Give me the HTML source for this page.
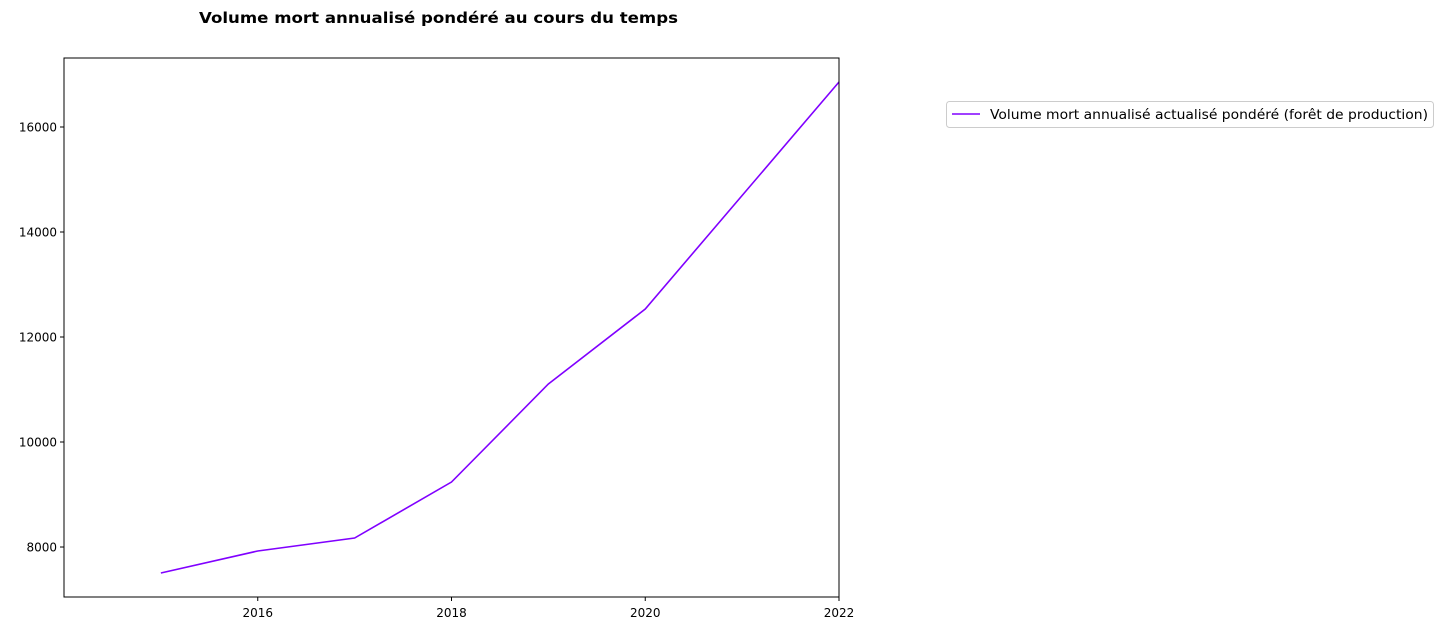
<!DOCTYPE html>
<html><head><meta charset="utf-8"><style>
html,body{margin:0;padding:0;background:#fff;}
svg{display:block;font-family:"DejaVu Sans","Liberation Sans",sans-serif;}
</style></head><body>
<svg id="chart" width="1444" height="631" xmlns="http://www.w3.org/2000/svg">
<text x="199" y="23" font-size="15.5" font-weight="bold" textLength="479" lengthAdjust="spacingAndGlyphs">Volume mort annualisé pondéré au cours du temps</text>
<g id="yticks"></g>
<g id="xticks"></g>
<polyline id="line" fill="none" stroke="#8000ff" stroke-width="1.6"/>
<rect x="64" y="58" width="775" height="539" fill="none" stroke="#000" stroke-width="1"/>
<g>
<rect x="946.5" y="101.5" width="487" height="26" rx="3" fill="#fff" stroke="#ccc"/>
<line x1="952" y1="114" x2="980" y2="114" stroke="#8000ff" stroke-width="1.6"/>
<text x="990" y="119" font-size="13" textLength="438" lengthAdjust="spacingAndGlyphs">Volume mort annualisé actualisé pondéré (forêt de production)</text>
</g>
</svg>
<script>
const years = [2015, 2016, 2017, 2018, 2019, 2020, 2021, 2022];
const values = [7505, 7924, 8171, 9238, 11105, 12533, 14695, 16857];
const xTickLabels = [2016, 2018, 2020, 2022];
const yTickLabels = [8000, 10000, 12000, 14000, 16000];
const NS = "http://www.w3.org/2000/svg";
const X0 = 64, X1 = 839, Y0 = 597, Y1 = 58;
const xMin = 2014, xMax = 2022, yMin = 7048, yMax = 17314;
const xs = v => X0 + (v - xMin) / (xMax - xMin) * (X1 - X0);
const ys = v => Y0 - (v - yMin) / (yMax - yMin) * (Y0 - Y1);
document.getElementById('line').setAttribute('points', years.map((y, i) => xs(y) + ',' + ys(values[i])).join(' '));
const yg = document.getElementById('yticks');
yTickLabels.forEach(v => {
  const y = ys(v);
  const l = document.createElementNS(NS, 'line');
  l.setAttribute('x1', X0 - 4); l.setAttribute('x2', X0); l.setAttribute('y1', y); l.setAttribute('y2', y); l.setAttribute('stroke', '#000');
  
  
  yg.appendChild(l);
  const t = document.createElementNS(NS, 'text');
  t.setAttribute('x', X0 - 7); t.setAttribute('y', y + 4.5); t.setAttribute('text-anchor', 'end'); t.setAttribute('font-size', '12');
  t.textContent = v;
  
  
  yg.appendChild(t);
});
const xg = document.getElementById('xticks');
xTickLabels.forEach(v => {
  const x = xs(v);
  const l = document.createElementNS(NS, 'line');
  l.setAttribute('x1', x); l.setAttribute('x2', x); l.setAttribute('y1', Y0); l.setAttribute('y2', Y0 + 4); l.setAttribute('stroke', '#000');
  
  
  xg.appendChild(l);
  const t = document.createElementNS(NS, 'text');
  t.setAttribute('x', x); t.setAttribute('y', Y0 + 20); t.setAttribute('text-anchor', 'middle'); t.setAttribute('font-size', '12');
  t.textContent = v;
  
  
  xg.appendChild(t);
});
</script>
</body></html>
